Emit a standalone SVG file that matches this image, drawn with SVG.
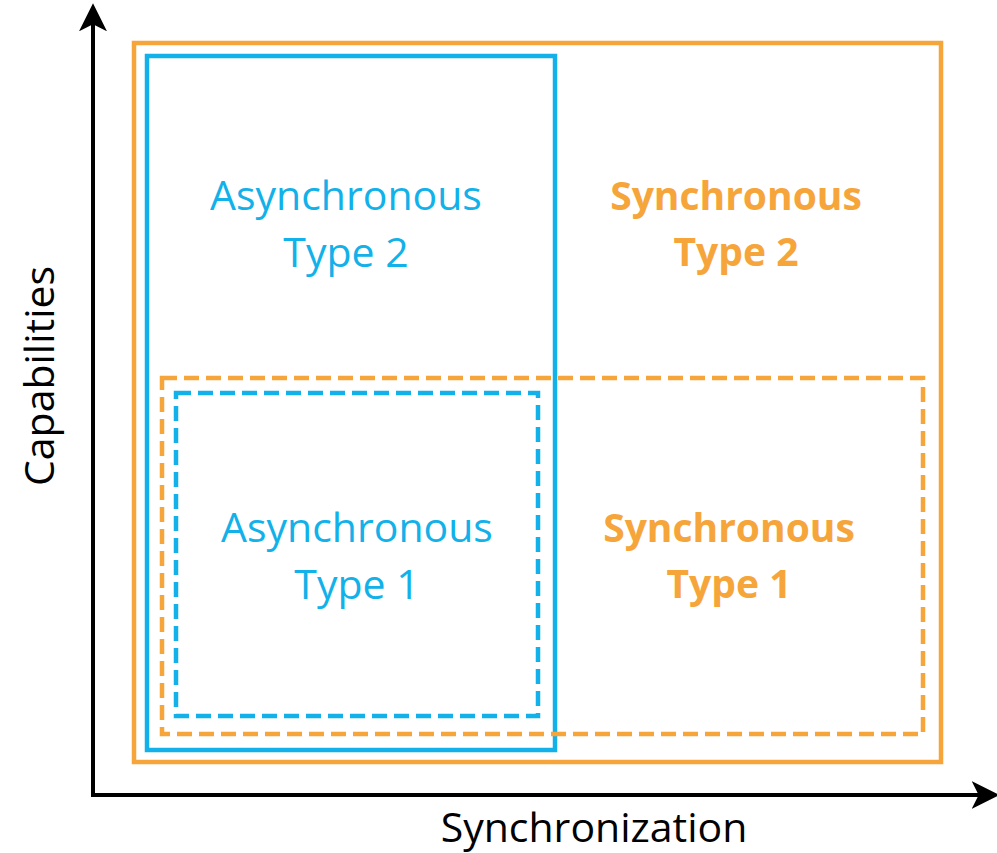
<svg xmlns="http://www.w3.org/2000/svg" width="997" height="853" viewBox="0 0 997 853">
<style>
.o{fill:none;stroke:#F6A53B;stroke-width:4.5}
.b{fill:none;stroke:#12B1E9;stroke-width:4.5}
.d{stroke-dasharray:15 7}
.t{font-family:"Open Sans","Noto Sans",sans-serif;font-size:41px;text-anchor:middle}
.tb{fill:#12B1E9}
.to{fill:#F6A53B;font-weight:bold;font-size:39px}
.ax{font-family:"Open Sans","Noto Sans",sans-serif;font-size:41px;fill:#000;text-anchor:middle}
</style>
<defs>
<marker id="ah" viewBox="0 0 12 12" refX="10" refY="6" markerWidth="7" markerHeight="7" markerUnits="strokeWidth" orient="auto">
<path d="M0,0 L12,6 L0,12 L3,6 Z" fill="#000"/>
</marker>
</defs>
<rect width="997" height="853" fill="#fff"/>
<g id="connectors">
<line x1="93" y1="797" x2="93" y2="8" stroke="#000" stroke-width="4" marker-end="url(#ah)"/>
<line x1="91" y1="795" x2="995" y2="795" stroke="#000" stroke-width="4" marker-end="url(#ah)"/>
</g>
<g id="sync-type2"><rect class="o" x="134" y="43" width="807" height="719"/></g>
<g id="async-type2"><rect class="b" x="147" y="56" width="408" height="694"/></g>
<g id="sync-type1"><rect class="o d" x="162" y="378" width="761" height="356"/></g>
<g id="async-type1"><rect class="b d" x="176" y="393" width="362" height="323"/></g>
<g id="labels">
<text class="t tb" x="346" y="210">Asynchronous</text>
<text class="t tb" x="346" y="267">Type 2</text>
<text class="t to" x="736" y="210">Synchronous</text>
<text class="t to" x="736" y="266">Type 2</text>
<text class="t tb" x="357" y="542">Asynchronous</text>
<text class="t tb" x="357" y="599">Type 1</text>
<text class="t to" x="729" y="542">Synchronous</text>
<text class="t to" x="729" y="598">Type 1</text>
<text class="ax" x="594" y="842">Synchronization</text>
<text class="ax" transform="translate(54,376) rotate(-90)">Capabilities</text>
</g>
</svg>
